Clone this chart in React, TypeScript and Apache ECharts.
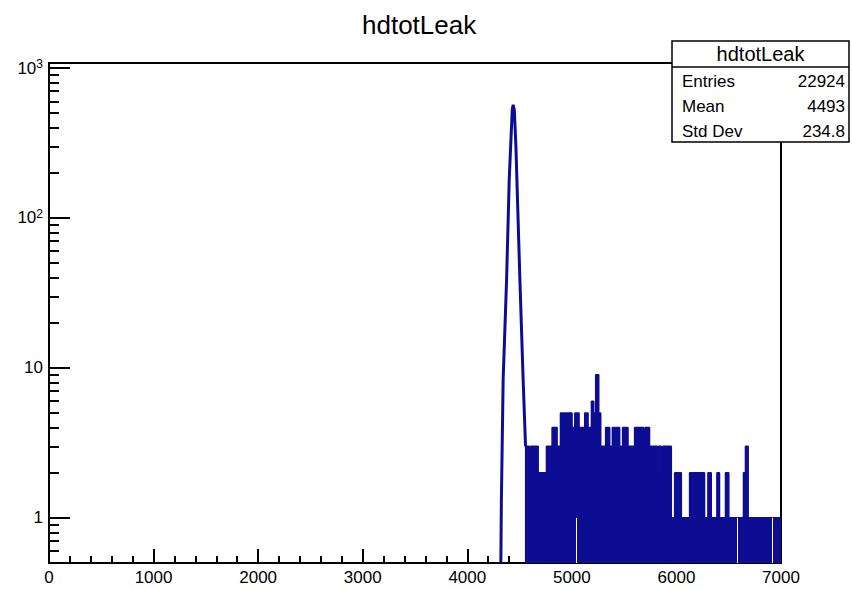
import React, { useEffect, useRef } from 'react';
import * as echarts from 'echarts';

const TITLE = 'hdtotLeak';
const FONT = '"Liberation Sans", Arial, Helvetica, sans-serif';
const LINE_COLOR = '#0d0d94';

// axis ranges
const X_RANGE = [0, 7000];
const Y_RANGE = [0.5, 1080];
const Y_MAJOR = [1, 10, 100, 1000];
const Y_MINOR = [
  0.6, 0.7, 0.8, 0.9,
  2, 3, 4, 5, 6, 7, 8, 9,
  20, 30, 40, 50, 60, 70, 80, 90,
  200, 300, 400, 500, 600, 700, 800, 900,
];

// main peak: [energy, counts]
const peakPoints: [number, number][] = [
  [4321, 0.5],
  [4326, 1.3],
  [4343, 8.4],
  [4376, 39],
  [4401, 180],
  [4430, 530],
  [4439, 569],
  [4450, 520],
  [4465, 300],
  [4503, 39],
  [4534, 8.4],
  [4557, 3],
];

// upper envelope of the sparse tail: [lower bin edge, counts]
const tailSteps: [number, number][] = [
  [4551, 3], [4592, 2], [4605, 3], [4678, 2], [4757, 3], [4811, 4],
  [4859, 3], [4891, 5], [4939, 4], [4948, 5], [4974, 4], [4980, 5],
  [5002, 4], [5028, 5], [5069, 4], [5123, 5], [5155, 4], [5187, 6],
  [5209, 5], [5228, 9], [5257, 5], [5276, 3], [5323, 4], [5362, 3],
  [5387, 4], [5409, 3], [5418, 4], [5457, 3], [5473, 2], [5485, 4],
  [5537, 3], [5600, 4], [5686, 2], [5700, 4], [5743, 3], [5814, 2],
  [5825, 3], [5856, 2], [5870, 3], [5951, 1], [5983, 2], [6020, 1],
  [6028, 2], [6047, 1], [6126, 2], [6158, 1], [6166, 2], [6269, 1],
  [6301, 2], [6333, 1], [6387, 2], [6412, 1], [6469, 2], [6501, 1],
  [6641, 2], [6660, 3], [6686, 1], [7000, 1],
];

// narrow empty slots inside the tail (single bins with no drop line)
const tailGaps = [5044, 6578, 6916];

// statistics box
const statRows: [string, string][] = [
  ['Entries', '22924'],
  ['Mean', '4493'],
  ['Std Dev', '234.8'],
];

const superscripts: Record<number, string> = { 100: '2', 1000: '3' };

export default function App() {
  const ref = useRef<HTMLDivElement>(null);

  useEffect(() => {
    document.body.style.margin = '0';
    if (!ref.current) return;
    const chart = echarts.init(ref.current, undefined, { renderer: 'svg' });

    const boxX = 672;
    const boxY = 41;
    const boxW = 177;
    const boxH = 101;
    const rowH = 25;

    const statGraphics: any[] = [
      {
        type: 'rect',
        shape: { x: boxX, y: boxY, width: boxW, height: boxH },
        style: { fill: '#fff', stroke: '#000', lineWidth: 1.5 },
        z: 10,
      },
      {
        type: 'line',
        shape: { x1: boxX, y1: boxY + 26, x2: boxX + boxW, y2: boxY + 26 },
        style: { stroke: '#000', lineWidth: 1.5 },
        z: 11,
      },
      {
        type: 'text',
        x: boxX + boxW / 2,
        y: boxY + 13,
        style: {
          text: TITLE,
          font: `20px ${FONT}`,
          fill: '#000',
          align: 'center',
          verticalAlign: 'middle',
        },
        z: 11,
      },
    ];
    statRows.forEach(([k, v], i) => {
      const cy = boxY + 40 + i * rowH;
      statGraphics.push(
        {
          type: 'text',
          x: boxX + 10,
          y: cy,
          style: { text: k, font: `17px ${FONT}`, fill: '#000', align: 'left', verticalAlign: 'middle' },
          z: 11,
        },
        {
          type: 'text',
          x: boxX + boxW - 4,
          y: cy,
          style: { text: v, font: `17px ${FONT}`, fill: '#000', align: 'right', verticalAlign: 'middle' },
          z: 11,
        }
      );
    });

    const option: any = {
      animation: false,
      backgroundColor: '#fff',
      title: {
        text: TITLE,
        left: 357,
        top: 7,
        textStyle: { fontFamily: FONT, fontSize: 26, fontWeight: 'normal', color: '#000' },
      },
      grid: {
        left: 49,
        right: 71,
        top: 63,
        bottom: 26,
        show: true,
        borderColor: '#000',
        borderWidth: 2,
        backgroundColor: 'transparent',
      },
      xAxis: {
        type: 'value',
        min: X_RANGE[0],
        max: X_RANGE[1],
        interval: 1000,
        axisLine: { show: true, onZero: false, lineStyle: { color: '#000', width: 2 } },
        axisTick: { inside: true, length: 14, lineStyle: { color: '#000', width: 2 } },
        minorTick: { show: true, splitNumber: 5, length: 7, lineStyle: { color: '#000', width: 2 } },
        splitLine: { show: false },
        axisLabel: {
          fontFamily: FONT,
          fontSize: 17,
          color: '#000',
          margin: 6,
          formatter: (v: number) => String(v),
        },
      },
      yAxis: [
        {
          type: 'log',
          logBase: 10,
          min: Y_RANGE[0],
          max: Y_RANGE[1],
          axisLine: { show: true, lineStyle: { color: '#000', width: 2 } },
          axisTick: { inside: true, length: 21, customValues: Y_MAJOR, lineStyle: { color: '#000', width: 2 } },
          splitLine: { show: false },
          axisLabel: {
            customValues: Y_MAJOR,
            margin: 6,
            formatter: (v: number) =>
              superscripts[v] ? `{b|10}{s|${superscripts[v]}}` : `{b|${v}}`,
            rich: {
              b: { fontFamily: FONT, fontSize: 17, color: '#000', lineHeight: 20 },
              s: { fontFamily: FONT, fontSize: 12, color: '#000', verticalAlign: 'top', lineHeight: 12 },
            },
          },
        },
        {
          type: 'log',
          logBase: 10,
          min: Y_RANGE[0],
          max: Y_RANGE[1],
          position: 'left',
          axisLine: { show: false },
          axisTick: { inside: true, length: 10, customValues: Y_MINOR, lineStyle: { color: '#000', width: 2 } },
          axisLabel: { show: false },
          splitLine: { show: false },
        },
      ],
      series: [
        {
          name: 'tail',
          type: 'line',
          step: 'end',
          showSymbol: false,
          data: tailSteps,
          lineStyle: { color: LINE_COLOR, width: 1.5 },
          areaStyle: { color: LINE_COLOR, opacity: 1, origin: 'start' },
          markLine: {
            symbol: 'none',
            silent: true,
            label: { show: false },
            lineStyle: { color: '#fff', width: 1, type: 'solid' },
            data: tailGaps.map((g) => [
              { coord: [g, Y_RANGE[0]] },
              { coord: [g, 1] },
            ]),
          },
        },
        {
          name: 'peak',
          type: 'line',
          showSymbol: false,
          data: peakPoints,
          lineStyle: { color: LINE_COLOR, width: 3 },
          z: 3,
        },
      ],
      graphic: statGraphics,
    };

    chart.setOption(option);
    return () => chart.dispose();
  }, []);

  return <div ref={ref} style={{ width: 852, height: 589 }} />;
}
